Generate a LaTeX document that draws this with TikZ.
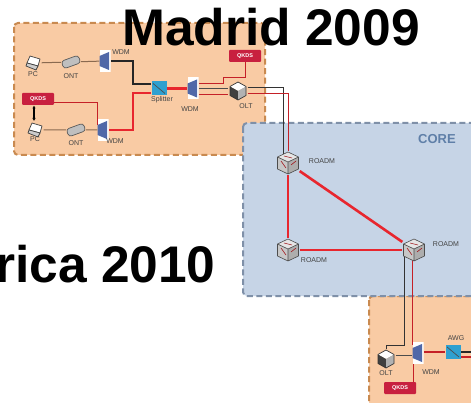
\documentclass[tikz,border=0pt]{standalone}
\usepackage{fontspec}
\setmainfont{Liberation Sans}
\usetikzlibrary{shapes.geometric,arrows.meta}
\pgfdeclarelayer{zones}
\pgfdeclarelayer{links}
\pgfsetlayers{zones,links,main}
\definecolor{orfill}{HTML}{F9CBA4}
\definecolor{orline}{HTML}{C98A50}
\definecolor{corefill}{HTML}{C6D4E6}
\definecolor{coreline}{HTML}{7F90A8}
\definecolor{coretext}{HTML}{5F7FA8}
\definecolor{fibre}{HTML}{E8262E}
\definecolor{qk}{HTML}{C8203F}
\definecolor{wdmb}{HTML}{5068A8}
\definecolor{sp}{HTML}{2FA0D0}
\definecolor{lab}{HTML}{444444}
\definecolor{wire}{HTML}{8A6A50}
\tikzset{
  zone/.style={draw=#1,line width=2pt,dash pattern=on 6pt off 3.5pt,rounded corners=4pt},
  lbl/.style={font=\fontsize{7}{8}\selectfont,text=lab,inner sep=0pt},
  thinw/.style={wire,line width=1pt},
  darkw/.style={black!80,line width=1pt},
  thickblack/.style={black!85,line width=1.8pt},
  redthin/.style={fibre!85!black,line width=1pt},
  redthick/.style={fibre,line width=2.6pt},
  qkds/.style={fill=qk,rounded corners=1pt,minimum width=32pt,minimum height=12pt,inner sep=0pt,
    text=white,font=\bfseries\fontsize{5.5}{6}\selectfont},
  wdmbox/.style={minimum width=11pt,minimum height=22pt,inner sep=0pt,path picture={
    \fill[white] (path picture bounding box.south west) rectangle (path picture bounding box.north east);
    \fill[wdmb] (-5.5pt,-5pt) -- (4pt,-9pt) -- (4pt,9pt) -- (-5.5pt,5pt) -- cycle;}},
  splitbox/.style={fill=sp,minimum width=15pt,minimum height=14pt,inner sep=0pt,path picture={
    \draw[black!70,line width=.7pt] (-6pt,5pt) -- (6pt,-5pt);}},
  roadmcube/.style={minimum width=23pt,minimum height=24pt,inner sep=0pt,path picture={
    \fill[black!10] (-10.5pt,6pt) -- (0pt,11pt) -- (10.5pt,6pt) -- (0pt,1pt) -- cycle;
    \fill[black!22] (-10.5pt,6pt) -- (0pt,1pt) -- (0pt,-11pt) -- (-10.5pt,-6pt) -- cycle;
    \fill[black!32] (10.5pt,6pt) -- (0pt,1pt) -- (0pt,-11pt) -- (10.5pt,-6pt) -- cycle;
    \draw[black!70,line width=.6pt,line join=round] (-10.5pt,6pt) -- (0pt,11pt) -- (10.5pt,6pt) -- (10.5pt,-6pt) -- (0pt,-11pt) -- (-10.5pt,-6pt) -- cycle (-10.5pt,6pt) -- (0pt,1pt) -- (10.5pt,6pt) (0pt,1pt) -- (0pt,-11pt);
    \draw[fibre!70!black,line width=.6pt] (-7pt,2pt) -- (-2pt,-5pt) (3pt,-2pt) -- (8pt,2pt) (-4pt,7pt) -- (4pt,5pt);}},
  olticon/.style={minimum width=19pt,minimum height=20pt,inner sep=0pt,path picture={
    \fill[white] (-8pt,4.5pt) -- (0pt,9pt) -- (8pt,4.5pt) -- (0pt,0pt) -- cycle;
    \fill[black!75] (-8pt,4.5pt) -- (0pt,0pt) -- (0pt,-9pt) -- (-8pt,-4.5pt) -- cycle;
    \fill[black!30] (8pt,4.5pt) -- (0pt,0pt) -- (0pt,-9pt) -- (8pt,-4.5pt) -- cycle;
    \draw[black!80,line width=.7pt,line join=round] (-8pt,4.5pt) -- (0pt,9pt) -- (8pt,4.5pt) -- (8pt,-4.5pt) -- (0pt,-9pt) -- (-8pt,-4.5pt) -- cycle;}},
  pcicon/.style={minimum width=17pt,minimum height=16pt,inner sep=0pt,path picture={
    \draw[black!75,fill=white,line width=.7pt,line join=round] (-3pt,7pt) -- (7pt,4pt) -- (5pt,-3pt) -- (-6pt,0pt) -- cycle;
    \draw[black!75,fill=black!20,line width=.7pt,line join=round] (-6pt,0pt) -- (5pt,-3pt) -- (3pt,-7pt) -- (-7pt,-3pt) -- cycle;}},
  onticon/.style={draw=black!65,fill=black!25,line width=.7pt,rounded corners=3pt,minimum width=18pt,minimum height=8pt,inner sep=0pt,rotate=20},
}
\begin{document}
\begin{tikzpicture}[x=1pt,y=-1pt]
\useasboundingbox (0,0) rectangle (471,403);
\clip (0,0) rectangle (471,403);
\begin{pgfonlayer}{zones}
\fill[white] (0,0) rectangle (471,403);
\filldraw[zone=orline,fill=orfill] (14,23) rectangle (265,155);
\filldraw[zone=orline,fill=orfill] (369,296) rectangle (490,420);
\filldraw[zone=coreline,fill=corefill] (243,123) rectangle (490,296);
\end{pgfonlayer}
\node[font=\bfseries\fontsize{13}{14}\selectfont,text=coretext,inner sep=0pt] (coretitle) at (437,139) {CORE};
% devices
\node[pcicon] (pca) at (33,63) {};
\node[onticon] (onta) at (71,62) {};
\node[wdmbox] (wdma) at (105,61) {};
\node[qkds] (qkdsa) at (245,56) {QKDS};
\node[splitbox] (split) at (159,88.5) {};
\node[wdmbox] (wdmb) at (193,88.5) {};
\node[olticon] (olta) at (238,91) {};
\node[qkds] (qkdsb) at (38,99) {QKDS};
\node[pcicon] (pcb) at (35,130) {};
\node[onticon] (ontb) at (76,130) {};
\node[wdmbox] (wdmc) at (103,130) {};
\node[roadmcube] (ra) at (288,163) {};
\node[roadmcube] (rb) at (288,250) {};
\node[roadmcube] (rc) at (414,250) {};
\node[olticon] (oltb) at (386,359) {};
\node[wdmbox] (wdmd) at (418,353) {};
\node[splitbox] (awg) at (453,352) {};
\node[qkds] (qkdsc) at (400,388) {QKDS};
\coordinate (eastb) at (480,352);
\coordinate (eastr) at (480,357);
\begin{pgfonlayer}{links}
\draw[thinw] (pca) -- (onta);
\draw[thinw] (onta) -- (wdma);
\draw[thinw] (pcb) -- (ontb);
\draw[thinw] (ontb) -- (wdmc);
\draw[thickblack] (wdma.east) -- (133,61) -- (133,84) -- (split.west |- 0,84);
\draw[redthick] (wdmc.east) -- (133,130) -- (133,93) -- (split.west |- 0,93);
\draw[redthick] (split.east) -- (wdmb.west);
\draw[redthin] (qkdsb.east |- 0,103) -- (97,103) -- (97,125) -- (wdmc.west |- 0,125);
\draw[redthin] (wdmb.east |- 0,84) -- (223,84) -- (223,78) -- (245,78) -- (qkdsa.south);
\draw[thinw,black!70] (wdmb.east |- 0,89) -- (olta.west |- 0,89);
\draw[redthin] (wdmb.east |- 0,95) -- (olta.west |- 0,95);
\draw[darkw] (olta.east |- 0,88) -- (283,88) -- (283,160);
\draw[redthin] (olta.east |- 0,94) -- (288,94) -- (ra.north);
\draw[redthick] (ra) -- (rb);
\draw[redthick] (ra) -- (rc);
\draw[redthick] (rb) -- (rc);
\draw[darkw] (rc.center -| 404,0) -- (404,345) -- (386,345) -- (oltb.north);
\draw[redthin] (rc.center -| 412,0) -- (412,345);
\draw[thinw,black!70] (oltb.east |- 0,355) -- (wdmd.west |- 0,355);
\draw[redthin] (413,360) -- (413,382);
\draw[redthin,line width=1.5pt] (wdmd.east |- 0,352) -- (awg.west);
\draw[thickblack] (awg.east) -- (eastb);
\draw[redthin,line width=1.5pt] (awg.east |- 0,357) -- (eastr);
\end{pgfonlayer}
\draw[{Latex[length=3pt,width=3.5pt]}-{Latex[length=3pt,width=3.5pt]},black,line width=1.1pt] (34,105.5) -- (34,121);
% labels
\node[lbl] (l1) at (33,74) {PC};
\node[lbl] (l2) at (71,76) {ONT};
\node[lbl] (l3) at (121,52) {WDM};
\node[lbl] (l4) at (162,100) {Splitter};
\node[lbl] (l5) at (190,109) {WDM};
\node[lbl] (l6) at (246,106) {OLT};
\node[lbl] (l7) at (35,139) {PC};
\node[lbl] (l8) at (76,143) {ONT};
\node[lbl] (l9) at (115,141) {WDM};
\node[lbl] (l10) at (322,161) {ROADM};
\node[lbl] (l11) at (314,260) {ROADM};
\node[lbl] (l12) at (446,244) {ROADM};
\node[lbl] (l13) at (386,373) {OLT};
\node[lbl] (l14) at (431,372) {WDM};
\node[lbl] (l15) at (456,338) {AWG};
% titles
\node[anchor=base west,inner sep=0pt,font=\bfseries\fontsize{51.5}{54}\selectfont] (t1) at (122,46) {Madrid 2009};
\node[anchor=base west,inner sep=0pt,font=\bfseries\fontsize{51.5}{54}\selectfont] (t2) at (-5,283) {rica 2010};
\end{tikzpicture}
\end{document}
